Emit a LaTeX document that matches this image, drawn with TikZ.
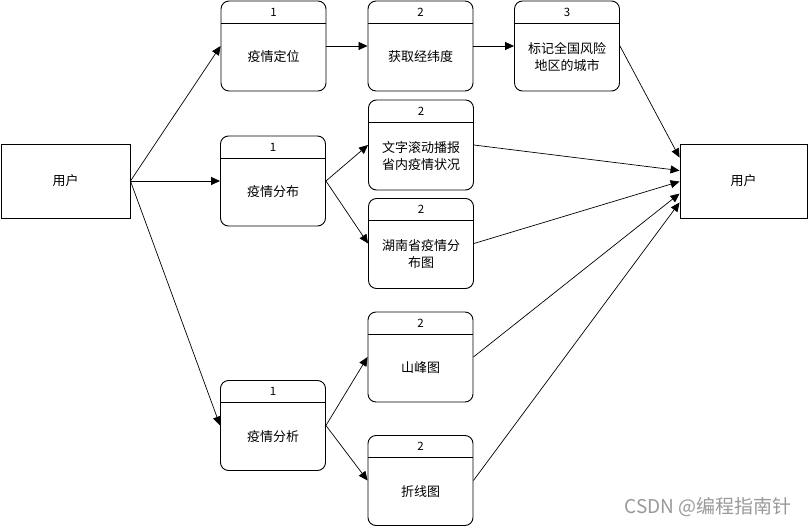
\documentclass[tikz,border=0pt]{standalone}
\usepackage{fontspec}
\setmainfont{Noto Sans CJK SC}
\usetikzlibrary{arrows.meta,calc}
\tikzset{
  userbox/.style={draw, line width=0.9pt, inner sep=0pt, minimum width=#1, minimum height=74pt, font=\fontsize{13pt}{15pt}\selectfont},
  procbox/.style={draw, line width=0.9pt, rounded corners=8pt, inner sep=0pt, minimum width=105pt, minimum height=90pt},
  numtext/.style={font=\fontsize{11.5pt}{13pt}\selectfont},
  bodytext/.style={font=\fontsize{13pt}{17pt}\selectfont, align=center},
  conn/.style={line width=0.7pt, -{Triangle[length=9pt,width=8pt]}},
}
\newcommand{\procnode}[5]{%
  \node[procbox] (#1) at (#2,#3) {};
  \draw[line width=0.9pt] ([yshift=-22.5pt]#1.north west) -- ([yshift=-22.5pt]#1.north east);
  \node[numtext] (#1n) at ([yshift=-11.5pt]#1.north) {#4};
  \node[bodytext] (#1t) at ([yshift=-11pt]#1.center) {#5};
}
\begin{document}
\begin{tikzpicture}[x=1pt,y=-1pt]
\useasboundingbox (0,0) rectangle (808,526);
\node[userbox=129pt] (uL) at (65.5,181) {用户};
\node[userbox=127pt] (uR) at (743.5,181) {用户};
\procnode{a1}{273.5}{46}{1}{疫情定位}
\procnode{a2}{420.5}{46}{2}{获取经纬度}
\procnode{a3}{567}{46}{3}{标记全国风险\\地区的城市}
\procnode{b1}{273}{181}{1}{疫情分布}
\procnode{b2}{421}{145}{2}{文字滚动播报\\省内疫情状况}
\procnode{b3}{421}{243.5}{2}{湖南省疫情分\\布图}
\procnode{c1}{273}{425.5}{1}{疫情分析}
\procnode{c2}{420.5}{357}{2}{山峰图}
\procnode{c3}{420.5}{480.5}{2}{折线图}
\coordinate (r1) at ([yshift=-14pt]uR.north west);
\coordinate (r2) at ([yshift=-27pt]uR.north west);
\coordinate (r3) at ([yshift=-38pt]uR.north west);
\coordinate (r4) at ([yshift=-50pt]uR.north west);
\coordinate (r5) at ([yshift=-59pt]uR.north west);
\draw[conn] (uL.east) -- (a1.west);
\draw[conn] (uL.east) -- (b1.west);
\draw[conn] (uL.east) -- (c1.west);
\draw[conn] (a1.east) -- (a2.west);
\draw[conn] (a2.east) -- (a3.west);
\draw[conn] (b1.east) -- (b2.west);
\draw[conn] (b1.east) -- (b3.west);
\draw[conn] (c1.east) -- (c2.west);
\draw[conn] (c1.east) -- (c3.west);
\draw[conn] (a3.east) -- (r1);
\draw[conn] (b2.east) -- (r2);
\draw[conn] (b3.east) -- (r3);
\draw[conn] (c2.east) -- (r4);
\draw[conn] (c3.east) -- (r5);
\node[text=black!40, font=\fontsize{19pt}{21pt}\selectfont, anchor=east] (wm) at (795,507) {CSDN @编程指南针};
\end{tikzpicture}
\end{document}
